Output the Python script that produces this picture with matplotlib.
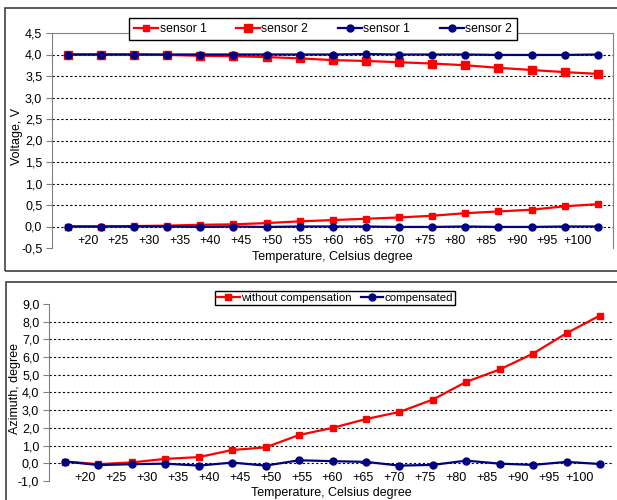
import numpy as np
import matplotlib
matplotlib.use("Agg")
from matplotlib import pyplot as plt
from matplotlib.patches import Rectangle
from matplotlib.ticker import FuncFormatter

plt.rcParams["font.family"] = ["Liberation Sans", "DejaVu Sans"]
plt.rcParams["font.size"] = 9

temp_labels = ["+20", "+25", "+30", "+35", "+40", "+45", "+50", "+55", "+60",
               "+65", "+70", "+75", "+80", "+85", "+90", "+95", "+100"]

# voltage, V
red_sensor1 = [0.00, 0.00, 0.01, 0.02, 0.04, 0.05, 0.08, 0.12, 0.15,
               0.18, 0.21, 0.25, 0.31, 0.35, 0.39, 0.47, 0.52]
red_sensor2 = [4.00, 4.00, 4.00, 3.99, 3.97, 3.96, 3.94, 3.91, 3.87,
               3.85, 3.82, 3.79, 3.75, 3.69, 3.64, 3.59, 3.55]
blue_sensor1 = [4.00, 4.00, 4.00, 4.00, 4.00, 4.00, 4.00, 4.00, 4.00,
                4.01, 4.00, 4.00, 4.00, 3.99, 3.99, 3.99, 4.00]
blue_sensor2 = [0.00, 0.00, 0.00, 0.00, -0.01, 0.00, -0.01, 0.00, 0.00,
                0.00, -0.01, -0.01, 0.00, -0.01, -0.01, 0.00, 0.00]

# azimuth, degree
without_comp = [0.10, -0.05, 0.05, 0.25, 0.35, 0.75, 0.90, 1.60, 2.00,
                2.50, 2.90, 3.60, 4.60, 5.30, 6.20, 7.35, 8.35]
compensated = [0.10, -0.10, -0.05, -0.02, -0.13, 0.04, -0.13, 0.17, 0.12,
               0.08, -0.13, -0.09, 0.15, -0.02, -0.09, 0.08, -0.04]

RED = "#ff0000"
NAVY = "#000080"
GRAY = "#808080"

x = np.arange(len(temp_labels))
label_pos = np.linspace(0.6, 15.4, len(temp_labels))

fig = plt.figure(figsize=(6.17, 5.0), dpi=100)

# outer chart frames
fig.add_artist(Rectangle((5 / 617, 1 - 271 / 500), 1.0, 263 / 500,
                         transform=fig.transFigure, fill=False,
                         edgecolor="#404040", linewidth=1.2))
fig.add_artist(Rectangle((6 / 617, -0.1), 1.0, 1 - 282 / 500 + 0.1,
                         transform=fig.transFigure, fill=False,
                         edgecolor="#404040", linewidth=1.2))


def comma_fmt(fmt):
    return FuncFormatter(lambda v, p: (fmt % v).replace(".", ","))


def style_axes(ax, yticks, ylabel, xpad, xlab_y, ylab_x):
    ax.set_yticks(yticks)
    ax.yaxis.set_major_formatter(comma_fmt("%.1f"))
    ax.set_xticks(label_pos)
    ax.set_xticklabels(temp_labels)
    ax.tick_params(axis="x", length=0, pad=xpad)
    ax.tick_params(axis="y", length=4, color=GRAY, direction="out", pad=3)
    ax.spines["bottom"].set_visible(False)
    ax.spines["left"].set_color(GRAY)
    ax.yaxis.grid(True, color="black", linestyle=(0, (2, 2)), linewidth=0.8)
    gl = ax.get_ygridlines()
    gl[0].set_visible(False)
    gl[-1].set_visible(False)
    ax.set_axisbelow(True)
    ax.set_xlabel("Temperature, Celsius degree")
    ax.xaxis.set_label_coords(0.5, xlab_y)
    ax.set_ylabel(ylabel)
    ax.yaxis.set_label_coords(ylab_x, 0.52)


# --- top: voltage
ax1 = fig.add_axes([52 / 617, 1 - 248 / 500, 561 / 617, 215 / 500])
ax1.plot(x, red_sensor1, color=RED, lw=1.6, marker="s", ms=4, label="sensor 1")
ax1.plot(x, red_sensor2, color=RED, lw=1.6, marker="s", ms=6, label="sensor 2")
ax1.plot(x, blue_sensor1, color=NAVY, lw=1.6, marker="o", ms=5, label="sensor 1")
ax1.plot(x, blue_sensor2, color=NAVY, lw=1.6, marker="o", ms=5, label="sensor 2")
ax1.set_xlim(-0.48, 16.46)
ax1.set_ylim(-0.5, 4.5)
style_axes(ax1, np.arange(-0.5, 4.51, 0.5), "Voltage, V",
           xpad=-9.5, xlab_y=-0.015, ylab_x=-0.052)
ax1.spines["top"].set_color(GRAY)
ax1.spines["right"].set_color(GRAY)
fig.legend(*ax1.get_legend_handles_labels(), loc="upper center",
           bbox_to_anchor=(323 / 617, 1 - 12 / 500), ncol=4, frameon=True,
           fancybox=False, edgecolor="black", framealpha=1,
           handlelength=2.0, handletextpad=0.1, columnspacing=2.4,
           borderpad=0.4, fontsize=8.8)

# --- bottom: azimuth
ax2 = fig.add_axes([49 / 617, 1 - 481 / 500, 564 / 617, 177 / 500])
ax2.plot(x, without_comp, color=RED, lw=1.6, marker="s", ms=5,
         label="without compensation")
ax2.plot(x, compensated, color=NAVY, lw=1.6, marker="o", ms=5,
         label="compensated")
ax2.set_xlim(-0.48, 16.39)
ax2.set_ylim(-1.0, 9.0)
style_axes(ax2, np.arange(-1.0, 9.01, 1.0), "Azimuth, degree",
           xpad=-6.5, xlab_y=-0.035, ylab_x=-0.05)
ax2.spines["top"].set_visible(False)
ax2.spines["right"].set_visible(False)
fig.legend(*ax2.get_legend_handles_labels(), loc="upper center",
           bbox_to_anchor=(335 / 617, 1 - 285 / 500), ncol=2, frameon=True,
           fancybox=False, edgecolor="black", framealpha=1,
           handlelength=2.0, handletextpad=0.1, columnspacing=0.8,
           borderpad=0.2, fontsize=8.2)

fig.savefig("out.png", dpi=100)
